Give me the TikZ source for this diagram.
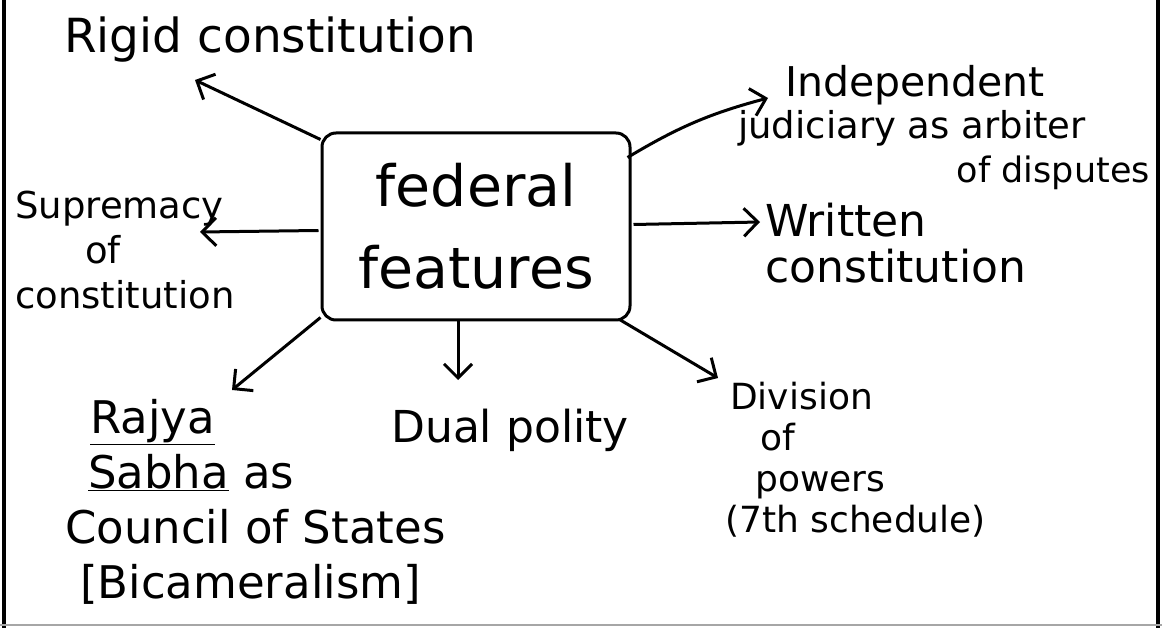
\documentclass[tikz,border=0pt]{standalone}
\usepackage{fontspec}
\setmainfont{DejaVu Sans}
\usetikzlibrary{arrows.meta,calc}
\begin{document}
\begin{tikzpicture}[x=1pt,y=-1pt,
  lbl/.style={inner sep=0pt, font=\fontsize{38}{46}\selectfont, align=center},
  conn/.style={line width=3pt, -{Straight Barb[length=14pt,width=28pt,line width=3pt]}},
  boxstyle/.style={draw, line width=3pt, rounded corners=14pt, minimum width=308pt, minimum height=187pt,
     font=\fontsize{57}{82}\selectfont, align=center}]
\useasboundingbox (0,0) rectangle (1162,628);
% frame
\draw[line width=4pt] (4,0) -- (4,628);
\draw[line width=4pt] (1158,0) -- (1158,628);
\draw[line width=1.5pt, black!35] (0,625) -- (1162,625);

\node[boxstyle] (box) at (476,226.5) {federal\\features};

% labels
\node[lbl, font=\fontsize{47}{56}\selectfont] (rigid) at (270,40) {Rigid constitution};
\node[lbl, font=\fontsize{37}{45}\selectfont, align=left, anchor=west] (sup) at (15,250) {Supremacy\\\hspace*{70pt}of\\constitution};
\node[lbl, font=\fontsize{41}{48}\selectfont] (ind1) at (915,85) {Independent};
\node[lbl, font=\fontsize{37}{46}\selectfont] (ind2) at (912,128) {judiciary as arbiter};
\node[lbl, font=\fontsize{35}{42}\selectfont, anchor=east] (ind3) at (1150,173) {of disputes};
\node[lbl, font=\fontsize{44}{46}\selectfont, align=left, anchor=west] (wri) at (765,243) {Written\\constitution};
\node[lbl, font=\fontsize{44}{50}\selectfont] (dual) at (510,430) {Dual polity};
\node[lbl, font=\fontsize{36}{41}\selectfont, align=left, anchor=west] (div) at (725,460) {\hspace*{5pt}Division\\\hspace*{35pt}of\\\hspace*{30pt}powers\\(7th schedule)};
\node[lbl, font=\fontsize{45}{55}\selectfont, align=left, anchor=west] (rajya) at (65,502) {\hspace*{25pt}\underline{Rajya}\\\hspace*{23pt}\underline{Sabha} as\\Council of States\\\hspace*{15pt}[Bicameralism]};

% arrow tips
\coordinate (rigidtip) at (195,80);
\coordinate (suptip) at (200,232);
\coordinate (indtip) at (768,98);
\coordinate (writip) at (760,222);
\coordinate (dualtip) at (458,380);
\coordinate (divtip) at (718,378);
\coordinate (rajtip) at (232,390);

\draw[conn] ($(box.north west)+(0,8)$) -- (rigidtip);
\draw[conn] ($(box.west)+(-2,4)$) -- (suptip);
\draw[conn] ($(box.north east)+(-4,26)$) to[bend left=8] (indtip);
\draw[conn] ($(box.east)+(2,-2)$) -- (writip);
\draw[conn] ($(box.south)+(-18,0)$) -- (dualtip);
\draw[conn] ($(box.south east)+(-12,-2)$) -- (divtip);
\draw[conn] ($(box.south west)+(0,-4)$) -- (rajtip);
\end{tikzpicture}
\end{document}
